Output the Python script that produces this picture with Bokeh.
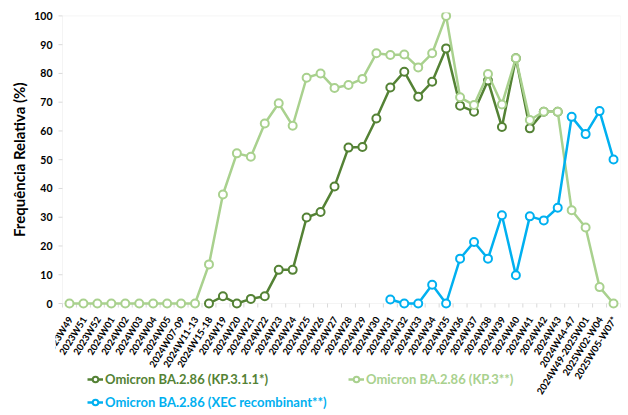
import math
from bokeh.plotting import figure
from bokeh.models import Range1d, FixedTicker, Legend, LegendItem, BoxAnnotation, ColumnDataSource, Title
from bokeh.embed import file_html
from bokeh.resources import INLINE

NaN = float("nan")

weeks = ["2023W49", "2023W51", "2023W52", "2024W01", "2024W02", "2024W03", "2024W04",
         "2024W05", "2024W07-09", "2024W11-13", "2024W15-18", "2024W19", "2024W20",
         "2024W21", "2024W22", "2024W23", "2024W24", "2024W25", "2024W26", "2024W27",
         "2024W28", "2024W29", "2024W30", "2024W31", "2024W32", "2024W33", "2024W34",
         "2024W35", "2024W36", "2024W37", "2024W38", "2024W39", "2024W40", "2024W41",
         "2024W42", "2024W43", "2024W44-47", "2024W49-2025W01", "2025W02-W04", "2025W05-W07*"]

kp311 = [NaN, NaN, NaN, NaN, NaN, NaN, NaN, NaN, NaN, NaN,
         0, 2.5, 0, 1.6, 2.5, 11.7, 11.7, 29.9, 31.8, 40.7,
         54.2, 54.4, 64.3, 75.1, 80.6, 71.9, 77.1, 88.7, 68.8, 66.7,
         77.5, 61.4, 85.3, 60.9, 66.7, 66.7, NaN, NaN, NaN, NaN]

kp3 = [0, 0, 0, 0, 0, 0, 0, 0, 0, 0,
       13.6, 37.9, 52.2, 51.0, 62.6, 69.6, 61.8, 78.5, 80.0, 74.9,
       76.0, 78.1, 87.0, 86.4, 86.6, 82.1, 87.0, 100, 71.7, 69.0,
       79.8, 69.2, 85.3, 63.8, 66.7, 66.7, 32.4, 26.4, 5.7, 0]

xec = [NaN, NaN, NaN, NaN, NaN, NaN, NaN, NaN, NaN, NaN,
       NaN, NaN, NaN, NaN, NaN, NaN, NaN, NaN, NaN, NaN,
       NaN, NaN, NaN, 1.4, 0, 0, 6.5, 0, 15.6, 21.4,
       15.6, 30.7, 9.8, 30.3, 28.9, 33.3, 64.9, 58.9, 66.9, 50.1]

y_ticks = list(range(0, 101, 10))

names = ["Omicron BA.2.86 (KP.3.1.1*)", "Omicron BA.2.86 (KP.3**)",
         "Omicron BA.2.86 (XEC recombinant**)"]
colors = ["#548235", "#a9d18e", "#00b0f0"]
GRAY = "#d9d9d9"
FONT = "Lato"

n = len(weeks)
x = list(range(n))

# layout (pixels)
PX_PER_CAT = 13.95           # pixels per category
PX_PER_UNIT = 2.876          # pixels per percentage point
EXTRA_LEFT = 7               # frame extends left of the plot box (room for first label)
FRAME_W = int(round(PX_PER_CAT * n)) + EXTRA_LEFT
FRAME_H = 402
TOP, LEFT, RIGHT = 12, 55, 7
Y0_FROM_TOP = 303 - TOP      # pixel distance from frame top to y=0
y_top = Y0_FROM_TOP / PX_PER_UNIT
y_bot = -(FRAME_H - Y0_FROM_TOP) / PX_PER_UNIT
x_start = -0.5 - EXTRA_LEFT / PX_PER_CAT

p = figure(frame_width=FRAME_W, frame_height=FRAME_H,
           min_border_left=LEFT, min_border_right=RIGHT, min_border_top=TOP, min_border_bottom=0,
           x_range=Range1d(x_start, n - 0.5), y_range=Range1d(y_bot, y_top),
           x_axis_location=None,
           output_backend="svg", toolbar_location=None)
p.outline_line_color = None
p.xgrid.visible = False
p.ygrid.visible = False

box = BoxAnnotation(left=-0.5, right=n - 0.5, bottom=0, top=100,
                    fill_alpha=0, line_color=GRAY, line_width=1, level="underlay")
p.add_layout(box)

# y axis (labels from the axis, tick marks drawn at the plot box edge)
p.yaxis.ticker = FixedTicker(ticks=y_ticks)
p.yaxis.axis_line_color = None
p.yaxis.major_tick_line_color = None
p.yaxis.major_tick_in = 0
p.yaxis.major_tick_out = 0
p.yaxis.minor_tick_line_color = None
p.yaxis.major_label_text_font = FONT
p.yaxis.major_label_text_font_style = "bold"
p.yaxis.major_label_text_font_size = "10.5px"
p.yaxis.major_label_text_color = "black"
p.yaxis.major_label_standoff = 3

ytick_len = 4 / PX_PER_CAT
p.segment(x0=[-0.5 - ytick_len] * len(y_ticks), y0=y_ticks,
          x1=[-0.5] * len(y_ticks), y1=y_ticks,
          line_color=GRAY, line_width=1, level="underlay")

ytitle = Title(text="Frequência Relativa (%)", align="right", offset=70, standoff=8,
               text_font=FONT, text_font_style="bold", text_font_size="15px",
               text_color="black")
p.add_layout(ytitle, "left")

# x axis: boundary tick marks and rotated category labels
bounds = [i - 0.5 for i in range(n + 1)]
tick_len = 4 / PX_PER_UNIT
p.segment(x0=bounds, y0=[0] * len(bounds), x1=bounds, y1=[-tick_len] * len(bounds),
          line_color=GRAY, line_width=1, level="underlay")
p.text(x=x, y=[0] * n, text=weeks, angle=math.radians(58),
       text_align="right", text_baseline="middle", x_offset=1, y_offset=14,
       text_font={"value": FONT}, text_font_style="bold", text_font_size="9.5px",
       text_color="black")

renderers = []
for vals, c in zip([kp311, kp3, xec], colors):
    src = ColumnDataSource(dict(x=x, y=vals))
    ln = p.line("x", "y", source=src, line_color=c, line_width=2.5)
    sc = p.scatter("x", "y", source=src, marker="circle", size=8, line_color=c,
                   line_width=2, fill_color="white")
    renderers.append((ln, sc))

legend_pos = [(25 + EXTRA_LEFT, 27), (286 + EXTRA_LEFT, 27), (25 + EXTRA_LEFT, 4)]
for (ln, sc), name, c, pos in zip(renderers, names, colors, legend_pos):
    leg = Legend(items=[LegendItem(label=name, renderers=[ln, sc])],
                 location=pos, padding=0, margin=0, spacing=0,
                 glyph_width=16, glyph_height=14, label_height=14,
                 label_standoff=2, background_fill_alpha=0, border_line_color=None,
                 label_text_color=c, label_text_font=FONT, label_text_font_style="bold",
                 label_text_font_size="13px")
    p.add_layout(leg, "center")

open("out.html", "w").write(file_html(p, INLINE))
